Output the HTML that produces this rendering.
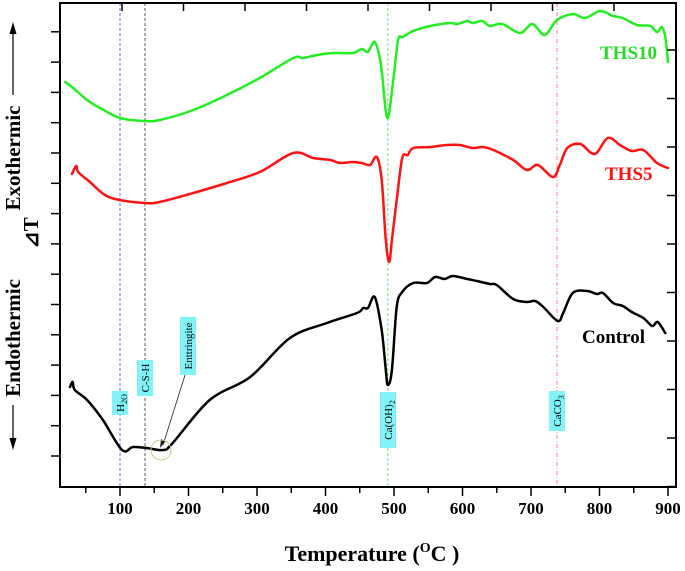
<!DOCTYPE html>
<html><head><meta charset="utf-8"><style>
html,body{margin:0;padding:0;background:#fff;}
svg{display:block;font-family:"Liberation Serif",serif;}
</style></head><body>
<svg id="chart" width="685" height="571" viewBox="0 0 685 571" xmlns="http://www.w3.org/2000/svg">
<g id="plot"></g>
</svg>
<script>
const xTicks = [100,200,300,400,500,600,700,800,900];
const controlT = [27,31,34,52,75,103,119,139,163,177,231,290,348,402,446,455,462,472,482,488,491,497,504,512,528,548,560,574,586,607,621,640,650,674,694,706,718,739,747,761,782,796,805,820,834,847,864,877,885,896];
const controlV = [100,105,97,87,67,37,40,39,37,44,87,110,149,164,174,179,179,190,157,117,102,117,180,195,204,204,210,208,211,208,206,203,202,188,185,186,180,166,174,194,196,193,194,184,181,175,169,161,165,154];
const ths5T = [30,36,39,56,78,100,136,158,207,256,304,353,382,407,421,440,453,465,475,482,488,493,497,504,512,520,528,553,577,596,615,630,645,674,694,710,732,742,753,772,793,812,830,847,864,884,900];
const ths5V = [313,321,315,305,292,287,284,285,294,304,315,334,329,327,324,325,324,322,330,307,247,225,247,287,329,332,339,340,342,342,339,340,337,327,317,322,310,322,339,343,333,349,342,336,337,324,319];
const ths10T = [20,30,52,71,100,136,158,207,256,304,353,367,388,411,440,453,462,472,481,490,499,506,513,528,553,582,592,607,615,629,640,658,684,702,720,738,761,779,801,820,834,855,874,884,891,896,900];
const ths10V = [405,400,387,379,369,366,367,377,392,409,429,429,432,434,434,438,435,445,422,369,407,447,450,456,461,464,463,466,464,466,461,463,454,463,452,467,473,469,476,471,469,462,461,455,460,450,425];
const markerT = [100,136.5,491,738];
const markerLabels = ["H2O","C-S-H","Ca(OH)2","CaCO3"];

const NS="http://www.w3.org/2000/svg";
const X0=60,X1=676,Y0=3,Y1=487;
function xs(t){return 120+(t-100)*0.685;}
function ys(v){return 487-v;}
const svg=document.getElementById('chart');
const plot=document.getElementById('plot');
function mk(tag,attrs,parent){const e=document.createElementNS(NS,tag);for(const k in attrs)e.setAttribute(k,attrs[k]);(parent||svg).appendChild(e);return e;}

const mColors=["#6a6aff","#555","#7fdc7f","#ff7f7f"];
const mDash=["3,2","3,2","3,2","4,2,1,2"];
markerT.forEach((t,i)=>{
  const l=mk('line',{x1:xs(t),x2:xs(t),y1:Y0,y2:Y1,stroke:mColors[i],'stroke-width':1,'stroke-dasharray':mDash[i]},plot);
  
  
});

function drawSeries(T,V,color,name){
  const P=T.map((t,i)=>[xs(t),ys(V[i])]);
  let d='M'+P[0][0].toFixed(1)+','+P[0][1].toFixed(1);
  for(let i=0;i<P.length-1;i++){
    const p0=P[Math.max(0,i-1)],p1=P[i],p2=P[i+1],p3=P[Math.min(P.length-1,i+2)];
    const c1=[p1[0]+(p2[0]-p0[0])/6,p1[1]+(p2[1]-p0[1])/6];
    const c2=[p2[0]-(p3[0]-p1[0])/6,p2[1]-(p3[1]-p1[1])/6];
    d+='C'+c1[0].toFixed(1)+','+c1[1].toFixed(1)+' '+c2[0].toFixed(1)+','+c2[1].toFixed(1)+' '+p2[0].toFixed(1)+','+p2[1].toFixed(1);
  }
  const p=mk('path',{d:d,fill:'none',stroke:color,'stroke-width':2.5,'stroke-linejoin':'round','stroke-linecap':'round'},plot);
  
  
}
drawSeries(ths10T,ths10V,'#22ee22','series-ths10');
drawSeries(ths5T,ths5V,'#ff1111','series-ths5');
drawSeries(controlT,controlV,'#000','series-control');

const fr=mk('rect',{x:X0,y:Y0,width:X1-X0,height:Y1-Y0,fill:'none',stroke:'#000','stroke-width':2});



for(let t=50;t<=900;t+=50){
  const major=t%100===0;
  const tk=mk('line',{x1:xs(t),x2:xs(t),y1:Y1,y2:Y1+(major?9:6),stroke:'#000','stroke-width':1.5});
  
  
}
xTicks.forEach(t=>{
  const tx=mk('text',{x:xs(t),y:514,'text-anchor':'middle','font-size':17,'font-weight':'bold'});
  tx.textContent=t;
  
  
});
for(let i=0;i<15;i++){const y=456-i*30.3;
  const tk=mk('line',{x1:X0-9,x2:X0,y1:y,y2:y,stroke:'#000','stroke-width':1.5});
  
  
}
for(let i=0;i<10;i++){const y=50+i*48.5;
  const tk=mk('line',{x1:X1-9,x2:X1,y1:y,y2:y,stroke:'#000','stroke-width':1.5});
  
  
}
for(let i=0;i<9;i++){const x=122+i*61.5;
  const tk=mk('line',{x1:x,x2:x,y1:Y0,y2:Y0+8,stroke:'#000','stroke-width':1.5});
  
  
}

function vlabel(cx,cy,w,h,txt,sub,name){
  const g=mk('g',{transform:`translate(${cx},${cy}) rotate(-90)`});
  
  
  mk('rect',{x:-w/2,y:-h/2,width:w,height:h,fill:'#7ff3f7'},g);
  const t=mk('text',{x:0,y:4,'text-anchor':'middle','font-size':11},g);
  t.textContent=txt;
  if(sub){const s=document.createElementNS(NS,'tspan');s.setAttribute('font-size',8);s.setAttribute('dy',3);s.textContent=sub;t.appendChild(s);}
}
vlabel(120,403,24,16,'H','2O','label-h2o');
vlabel(145,378,36,16,'C-S-H','','label-csh');
vlabel(188,346,58,16,'Enttringite','','label-ettringite');
vlabel(388,420,56,16,'Ca(OH)','2','label-caoh2');
vlabel(557,411,40,16,'CaCO','3','label-caco3');
mk('line',{x1:185,y1:375,x2:163,y2:445,stroke:'#222','stroke-width':0.8});
mk('path',{d:'M160,448 L161,439 L166,441 Z',fill:'#222'});
mk('circle',{cx:161,cy:450,r:10,fill:'none',stroke:'#c8c890','stroke-width':1});

[['THS10',600,59,'#22dd22','label-ths10'],['THS5',605,180,'#ff1111','label-ths5'],['Control',582,343,'#000','label-control']].forEach(a=>{
  const t=mk('text',{x:a[1],y:a[2],'font-size':19,'font-weight':'bold',fill:a[3]});
  t.textContent=a[0];
  
  
});

const xt=mk('text',{x:372,y:561,'text-anchor':'middle','font-size':22,'font-weight':'bold'});
xt.innerHTML='Temperature (<tspan font-size="14" dy="-9">O</tspan><tspan dy="9">C )</tspan>';



// y axis title pieces
function rtext(x,y,txt,size,name){
  const t=mk('text',{x:0,y:0,transform:`translate(${x},${y}) rotate(-90)`,'text-anchor':'middle','font-size':size,'font-weight':'bold'});
  t.textContent=txt;
  
  
}
rtext(20,338,'Endothermic',21,'y-title-endothermic');
rtext(20,158,'Exothermic',21,'y-title-exothermic');
rtext(38,233,'\u22BFT',21,'y-title-delta-t');
mk('line',{x1:13,y1:95,x2:13,y2:30,stroke:'#000','stroke-width':1.2});
mk('path',{d:'M13,22 L9.5,34 L16.5,34 Z',fill:'#000'});
mk('line',{x1:13,y1:405,x2:13,y2:442,stroke:'#000','stroke-width':1.2});
mk('path',{d:'M13,450 L9.5,438 L16.5,438 Z',fill:'#000'});
</script>
</body></html>
